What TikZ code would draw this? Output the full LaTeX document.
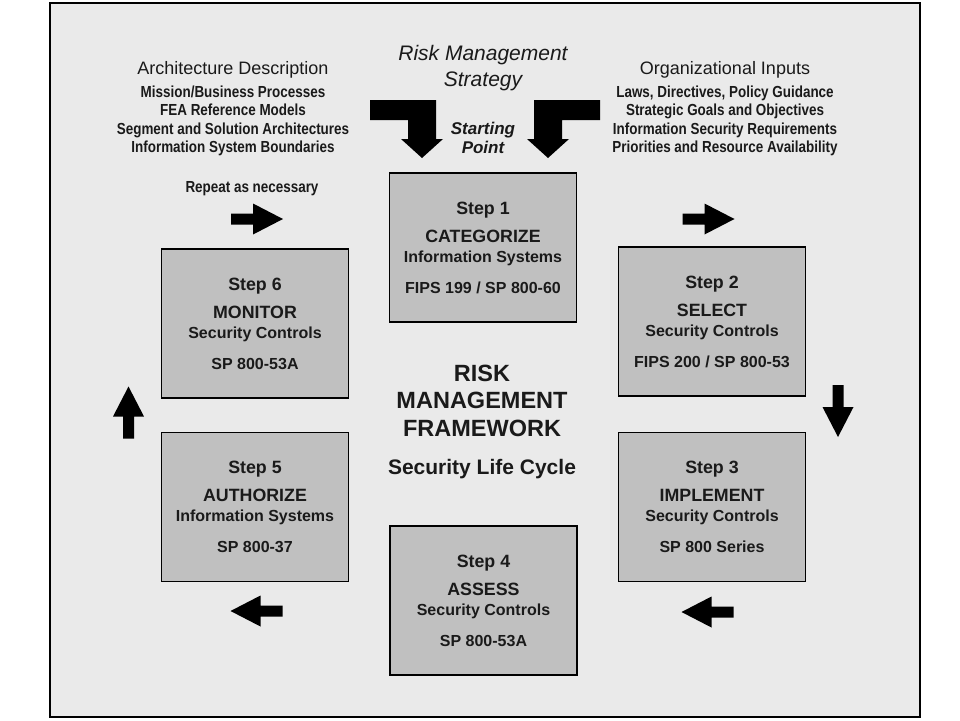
\documentclass[tikz,border=0pt]{standalone}
\usepackage{fontspec}
\setmainfont{Liberation Sans}
\newfontfamily\narrowbf[FakeStretch=0.84]{Liberation Sans Bold}
\definecolor{bgc}{HTML}{EAEAEA}
\definecolor{boxc}{HTML}{C0C0C0}
\definecolor{txt}{HTML}{1A1A1A}
\newcommand{\stepbig}[1]{{\fontsize{17.8}{20}\selectfont #1}}
\begin{document}
\begin{tikzpicture}[x=1pt,y=-1pt,
  stepbox/.style={draw=black, line width=1.5pt, fill=boxc, minimum width=187pt, minimum height=149pt, inner sep=0pt, align=center, font=\fontsize{16}{20}\selectfont\bfseries, text=txt},
  headtxt/.style={font=\fontsize{18}{22}\selectfont, text=txt},
  subtxt/.style={align=center, font=\narrowbf\fontsize{16}{18.4}\selectfont, text=txt},
  pics/blockarrow/.style={code={\fill[black] (-26,-5.5) -- (-4,-5.5) -- (-4,-15.5) -- (26,0) -- (-4,15.5) -- (-4,5.5) -- (-26,5.5) -- cycle;}}
]
\useasboundingbox (0,0) rectangle (960,720);
\fill[white] (0,0) rectangle (960,720);
\draw[fill=bgc, line width=2pt] (50,3) rectangle (920,717);

% top texts
\node[headtxt] (ad) at (233,70) {Architecture Description};
\node[subtxt] (adl) at (233,121) {Mission/Business Processes\\FEA Reference Models\\Segment and Solution Architectures\\Information System Boundaries};
\node[headtxt] (oi) at (725,70) {Organizational Inputs};
\node[subtxt] (oil) at (725,121) {Laws, Directives, Policy Guidance\\Strategic Goals and Objectives\\Information Security Requirements\\Priorities and Resource Availability};
\node[font=\fontsize{21}{26}\selectfont\itshape, align=center, text=txt] (rms) at (483,68) {Risk Management\\Strategy};
\node[font=\fontsize{17}{19}\selectfont\bfseries\itshape, align=center, text=txt] (sp) at (483,137.5) {Starting\\Point};
\node[subtxt] (rep) at (252,189) {Repeat as necessary};

% bent arrows
\fill[black] (370,100) -- (436,100) -- (436,139) -- (443,139) -- (422,158) -- (401,139) -- (408,139) -- (408,120) -- (370,120) -- cycle;
\fill[black] (600,100) -- (534,100) -- (534,139) -- (527,139) -- (548,158) -- (569,139) -- (562,139) -- (562,120) -- (600,120) -- cycle;

% step boxes
\node[stepbox] (s1) at (483,247.5) {\stepbig{Step 1}\\[8pt]\stepbig{CATEGORIZE}\\Information Systems\\[11pt]FIPS 199 / SP 800-60};
\node[stepbox] (s2) at (712,321.5) {\stepbig{Step 2}\\[8pt]\stepbig{SELECT}\\Security Controls\\[11pt]FIPS 200 / SP 800-53};
\node[stepbox] (s3) at (712,507) {\stepbig{Step 3}\\[8pt]\stepbig{IMPLEMENT}\\Security Controls\\[11pt]SP 800 Series};
\node[stepbox] (s4) at (483.5,600.5) {\stepbig{Step 4}\\[8pt]\stepbig{ASSESS}\\Security Controls\\[11pt]SP 800-53A};
\node[stepbox] (s5) at (255,507) {\stepbig{Step 5}\\[8pt]\stepbig{AUTHORIZE}\\Information Systems\\[11pt]SP 800-37};
\node[stepbox] (s6) at (255,323.5) {\stepbig{Step 6}\\[8pt]\stepbig{MONITOR}\\Security Controls\\[11pt]SP 800-53A};

% centre
\node[font=\fontsize{23.5}{27.5}\selectfont\bfseries, align=center, text=txt] (rmf) at (482,400.5) {RISK\\MANAGEMENT\\FRAMEWORK};
\node[font=\fontsize{21}{25}\selectfont\bfseries, text=txt] (slc) at (482,469) {Security Life Cycle};

% cycle arrows
\pic (a61) at (257,219) {blockarrow};
\pic (a12) at (708.5,219) {blockarrow};
\pic[rotate=-90] (a23) at (838,411) {blockarrow};
\pic[rotate=180] (a34) at (707.5,612) {blockarrow};
\pic[rotate=180] (a45) at (256.5,611) {blockarrow};
\pic[rotate=90] (a56) at (128.5,412.5) {blockarrow};
\end{tikzpicture}
\end{document}
